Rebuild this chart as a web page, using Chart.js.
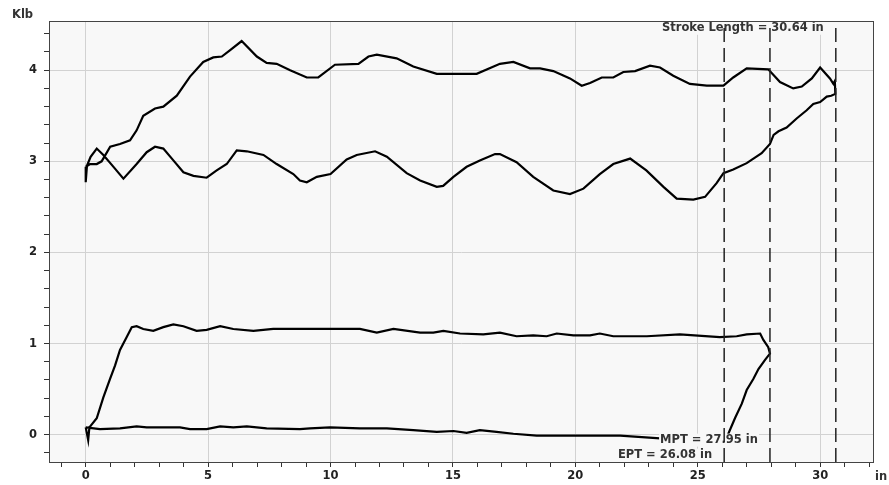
<!DOCTYPE html>
<html>
<head>
<meta charset="utf-8">
<script src="https://cdn.jsdelivr.net/npm/chart.js@4.4.1/dist/chart.umd.min.js"></script>
<style>
  html, body { margin: 0; padding: 0; background: #ffffff; }
  canvas { display: block; }
</style>
</head>
<body>
<canvas id="dynoChart" width="889" height="485"></canvas>
<script>
// Surface card (clockwise loop: upstroke left->right, downstroke right->left)
const surfacePosition = [
    0.00, 0.18, 0.45, 0.65, 1.00, 1.40, 1.81, 2.08, 2.35, 2.83, 3.17, 3.72, 4.26, 4.80, 5.21, 5.56, 5.90, 6.37,
    6.99, 7.39, 7.80, 8.35, 9.03, 9.50, 10.18, 11.14, 11.55, 11.89, 12.70, 13.38, 14.34, 15.97, 16.92, 17.47,
    18.15, 18.56, 19.10, 19.78, 20.26, 20.60, 21.08, 21.55, 21.96, 22.44, 23.05, 23.46, 24.00, 24.68, 25.37,
    26.05, 26.45, 27.00, 27.88, 28.36, 28.90, 29.25, 29.66, 30.00, 30.40, 30.54, 30.60, 30.62,
    30.45, 30.27, 30.00, 29.72, 29.45, 29.04, 28.63, 28.30, 28.10, 27.95, 27.61, 27.00, 26.45, 26.05, 25.77,
    25.30, 24.82, 24.14, 23.60, 22.90, 22.24, 21.55, 21.00, 20.33, 19.78, 19.10, 18.28, 17.60, 16.92, 16.72,
    16.10, 15.56, 15.02, 14.60, 14.34, 13.66, 13.11, 12.30, 11.82, 11.07, 10.66, 10.00, 9.44, 9.03, 8.75,
    8.48, 7.80, 7.26, 6.58, 6.17, 5.76, 5.35, 4.94, 4.40, 3.99, 3.58, 3.17, 2.83, 2.49, 2.08, 1.54, 1.10,
    0.72, 0.45, 0.20, 0.05, 0.00, 0.00
];
const surfaceLoad = [
    2.94, 2.97, 2.97, 3.00, 3.16, 3.19, 3.23, 3.34, 3.50, 3.58, 3.60, 3.72, 3.93, 4.09, 4.14, 4.15, 4.22, 4.32,
    4.15, 4.08, 4.07, 4.00, 3.92, 3.92, 4.06, 4.07, 4.15, 4.17, 4.13, 4.04, 3.96, 3.96, 4.07, 4.09,
    4.02, 4.02, 3.99, 3.91, 3.83, 3.86, 3.92, 3.92, 3.98, 3.99, 4.05, 4.03, 3.94, 3.85, 3.83,
    3.83, 3.92, 4.02, 4.01, 3.87, 3.80, 3.82, 3.91, 4.03, 3.91, 3.85, 3.88, 3.74,
    3.72, 3.71, 3.65, 3.63, 3.56, 3.47, 3.37, 3.33, 3.29, 3.19, 3.09, 2.98, 2.91, 2.87, 2.76,
    2.61, 2.58, 2.59, 2.72, 2.90, 3.03, 2.97, 2.86, 2.70, 2.64, 2.68, 2.83, 2.99, 3.08, 3.08,
    3.01, 2.94, 2.83, 2.73, 2.72, 2.79, 2.87, 3.05, 3.11, 3.07, 3.02, 2.86, 2.83, 2.77, 2.79,
    2.86, 2.97, 3.07, 3.11, 3.12, 2.97, 2.90, 2.82, 2.84, 2.88, 3.01, 3.14, 3.16, 3.10, 2.97, 2.81, 2.95,
    3.07, 3.14, 3.05, 2.95, 2.77, 2.94
];

// Downhole pump card
const pumpPosition = [
    0.00, 0.10, 0.15, 0.45, 0.72, 0.99, 1.20, 1.40, 1.67, 1.88, 2.08, 2.35, 2.76, 3.17, 3.58, 3.99, 4.53,
    4.94, 5.49, 6.03, 6.85, 7.66, 8.75, 11.20, 11.89, 12.57, 13.66, 14.20, 14.61, 15.29, 16.24, 16.92, 17.60,
    18.28, 18.83, 19.24, 19.92, 20.60, 21.00, 21.55, 22.92, 24.27, 25.90, 26.59, 27.00, 27.55, 27.68, 27.88,
    27.95, 27.75, 27.48, 27.27, 27.00, 26.80, 26.52, 26.25, 26.10, 24.50, 23.46, 21.83, 21.00, 18.42, 17.47,
    16.78, 16.10, 15.56, 15.02, 14.34, 13.38, 12.30, 11.20, 9.98, 9.16, 8.75, 7.39, 6.58, 6.03, 5.49, 4.94,
    4.26, 3.85, 2.49, 2.08, 1.40, 0.58, 0.00
];
const pumpLoad = [
    0.08, -0.06, 0.08, 0.18, 0.41, 0.61, 0.76, 0.93, 1.07, 1.18, 1.19, 1.16, 1.14, 1.18, 1.21, 1.19, 1.14,
    1.15, 1.19, 1.16, 1.14, 1.16, 1.16, 1.16, 1.12, 1.16, 1.12, 1.12, 1.14, 1.11, 1.10, 1.12, 1.08,
    1.09, 1.08, 1.11, 1.09, 1.09, 1.11, 1.08, 1.08, 1.10, 1.07, 1.08, 1.10, 1.11, 1.04, 0.96,
    0.89, 0.82, 0.72, 0.61, 0.49, 0.34, 0.18, 0.01, -0.05, -0.05, -0.04, -0.01, -0.01, -0.01, 0.01,
    0.03, 0.05, 0.02, 0.04, 0.03, 0.05, 0.07, 0.07, 0.08, 0.07, 0.06, 0.07, 0.09, 0.08, 0.09, 0.06,
    0.06, 0.08, 0.08, 0.09, 0.07, 0.06, 0.08
];

// Marker lines (in)
const markerNames = ['EPT', 'MPT', 'Stroke Length'];
const markerValues = [26.08, 27.95, 30.64];

const xMin = -1.5, xMax = 32.2;
const yMin = -0.3, yMax = 4.54;

const toPoints = (xs, ys) => xs.map((x, i) => ({ x: x, y: ys[i] }));
const isWhole = (v, step) => Math.abs(v / step - Math.round(v / step)) < 1e-6;

const FONT = "'DejaVu Sans', Verdana, sans-serif";
const FONT_SIZE = 11.5;

// order -1 puts the dashed lines on top of the curves and captions
const markerDatasets = markerValues.map(v => ({
    label: 'marker ' + v,
    data: [{ x: v, y: yMin }, { x: v, y: yMax }],
    borderColor: '#222222',
    borderWidth: 1.5,
    borderDash: [14, 6],
    pointRadius: 0,
    showLine: true,
    order: -1
}));

// Plot background, frame and text annotations
const cardDecor = {
    id: 'cardDecor',
    beforeDraw(chart) {
        const { ctx, chartArea: a } = chart;
        ctx.save();
        ctx.fillStyle = '#f8f8f8';
        ctx.fillRect(a.left, a.top, a.right - a.left, a.bottom - a.top);
        ctx.restore();
    },
    afterDatasetDraw(chart, args) {
        // captions go between the curves and the dashed lines
        if (args.index !== 0) return;
        const { ctx, scales } = chart;
        const labelY = [-0.225, -0.06, 4.46];
        ctx.save();
        ctx.font = 'bold ' + FONT_SIZE + 'px ' + FONT;
        ctx.textBaseline = 'middle';
        ctx.textAlign = 'right';
        markerValues.forEach((v, i) => {
            const text = markerNames[i] + ' = ' + v.toFixed(2) + ' in';
            const px = scales.x.getPixelForValue(v) - 12;
            const py = scales.y.getPixelForValue(labelY[i]);
            const w = ctx.measureText(text).width;
            ctx.fillStyle = '#f8f8f8';
            ctx.fillRect(px - w - 1, py - 6.5, w + 2, 13);
            ctx.fillStyle = '#333333';
            ctx.fillText(text, px, py);
        });
        ctx.restore();
    },
    afterDraw(chart) {
        const { ctx, chartArea: a } = chart;
        ctx.save();
        ctx.strokeStyle = '#444444';
        ctx.lineWidth = 1;
        ctx.strokeRect(a.left + 0.5, a.top + 0.5, a.right - a.left - 1, a.bottom - a.top);

        ctx.fillStyle = '#333333';
        ctx.font = 'bold ' + FONT_SIZE + 'px ' + FONT;
        ctx.textBaseline = 'middle';
        ctx.textAlign = 'left';
        ctx.fillText('Klb', 12, 15);
        ctx.fillText('in', 875, 477);
        ctx.restore();
    }
};

new Chart(document.getElementById('dynoChart'), {
    type: 'scatter',
    data: {
        datasets: [
            {
                label: 'Surface',
                data: toPoints(surfacePosition, surfaceLoad),
                borderColor: '#000000',
                borderWidth: 2.2,
                pointRadius: 0,
                showLine: true
            },
            {
                label: 'Pump',
                data: toPoints(pumpPosition, pumpLoad),
                borderColor: '#000000',
                borderWidth: 2.2,
                pointRadius: 0,
                showLine: true
            },
            ...markerDatasets
        ]
    },
    options: {
        responsive: false,
        animation: false,
        layout: { padding: { left: 0, top: 21, right: 15, bottom: 0 } },
        plugins: {
            legend: { display: false },
            tooltip: { enabled: false }
        },
        scales: {
            x: {
                type: 'linear',
                min: xMin,
                max: xMax,
                afterFit: (scale) => { scale.height = 23; },
                border: { display: false },
                grid: {
                    color: (c) => (c.tick && isWhole(c.tick.value, 5)) ? '#d2d2d2' : 'rgba(0,0,0,0)',
                    tickColor: '#333333',
                    tickLength: 5,
                    lineWidth: 1
                },
                ticks: {
                    stepSize: 1,
                    includeBounds: false,
                    autoSkip: false,
                    maxRotation: 0,
                    padding: 2,
                    color: '#222222',
                    font: { family: FONT, size: FONT_SIZE, weight: 'bold' },
                    callback: (v) => isWhole(v, 5) ? String(Math.round(v)) : ''
                }
            },
            y: {
                type: 'linear',
                min: yMin,
                max: yMax,
                afterFit: (scale) => { scale.width = 49; },
                border: { display: false },
                grid: {
                    color: (c) => (c.tick && isWhole(c.tick.value, 1)) ? '#d2d2d2' : 'rgba(0,0,0,0)',
                    tickColor: '#333333',
                    tickLength: 5,
                    lineWidth: 1
                },
                ticks: {
                    stepSize: 0.2,
                    includeBounds: false,
                    autoSkip: false,
                    padding: 7,
                    color: '#222222',
                    font: { family: FONT, size: FONT_SIZE, weight: 'bold' },
                    callback: (v) => isWhole(v, 1) ? String(Math.round(v)) : ''
                }
            }
        }
    },
    plugins: [cardDecor]
});
</script>
</body>
</html>
